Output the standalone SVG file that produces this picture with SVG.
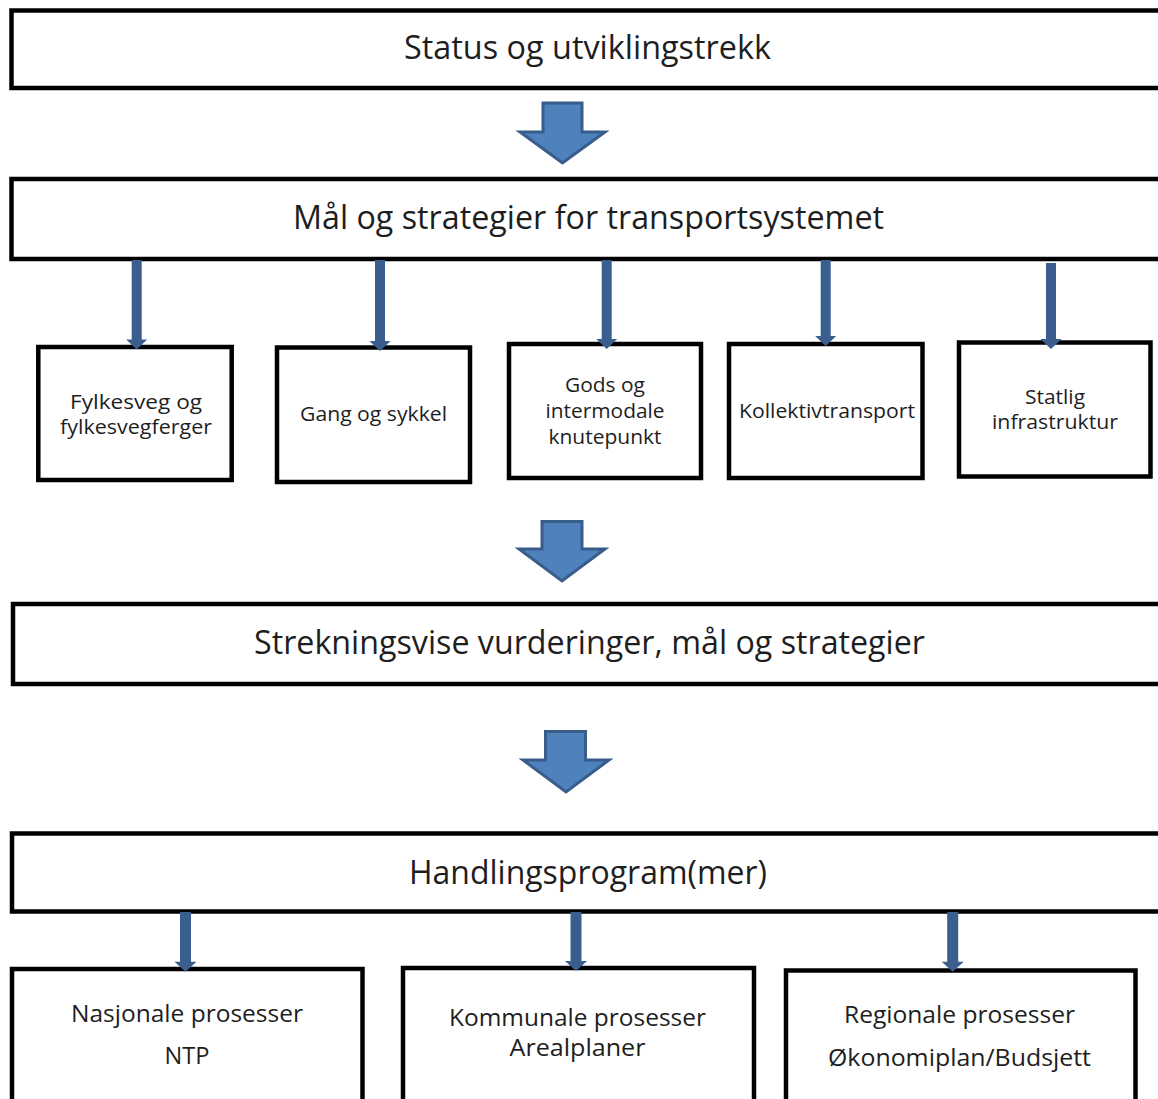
<svg xmlns="http://www.w3.org/2000/svg" width="1158" height="1099" viewBox="0 0 1158 1099">
<style>
.box{fill:#fff;stroke:#000;stroke-width:4.5}
.t{font-family:"Open Sans","Noto Sans","Liberation Sans",sans-serif;fill:#1e1e1e;text-anchor:middle}
.big{font-size:32px}
.sm{font-size:20px}
.md{font-size:23px}
.con{fill:#3a5f8f}
.blk{fill:#4f81bd;stroke:#385d8a;stroke-width:3;stroke-linejoin:miter}
</style>
<rect width="1158" height="1099" fill="#fff"/>
<g id="n-status">
<rect class="box" x="11.5" y="10.5" width="1170" height="77.5"/>
<text class="t big" x="587.5" y="59" textLength="367" lengthAdjust="spacingAndGlyphs">Status og utviklingstrekk</text>
</g>
<g id="n-maal">
<rect class="box" x="11.5" y="179" width="1170" height="80"/>
<text class="t big" x="588.5" y="229" textLength="591" lengthAdjust="spacingAndGlyphs">Mål og strategier for transportsystemet</text>
</g>
<g id="n-fylkesveg">
<rect class="box" x="38.3" y="347" width="193.4" height="133"/>
<text class="t sm" x="136" y="409" textLength="132" lengthAdjust="spacingAndGlyphs">Fylkesveg og</text>
<text class="t sm" x="136" y="434" textLength="152" lengthAdjust="spacingAndGlyphs">fylkesvegferger</text>
</g>
<g id="n-gang">
<rect class="box" x="277" y="347.5" width="193" height="134.5"/>
<text class="t sm" x="373.5" y="421" textLength="147" lengthAdjust="spacingAndGlyphs">Gang og sykkel</text>
</g>
<g id="n-gods">
<rect class="box" x="509" y="344" width="192" height="134"/>
<text class="t sm" x="605" y="392" textLength="80" lengthAdjust="spacingAndGlyphs">Gods og</text>
<text class="t sm" x="605" y="418" textLength="119" lengthAdjust="spacingAndGlyphs">intermodale</text>
<text class="t sm" x="605" y="444" textLength="113" lengthAdjust="spacingAndGlyphs">knutepunkt</text>
</g>
<g id="n-kollektiv">
<rect class="box" x="729" y="344" width="193.5" height="134"/>
<text class="t sm" x="827" y="418" textLength="176" lengthAdjust="spacingAndGlyphs">Kollektivtransport</text>
</g>
<g id="n-statlig">
<rect class="box" x="959" y="342.5" width="191.5" height="134"/>
<text class="t sm" x="1055" y="404" textLength="60" lengthAdjust="spacingAndGlyphs">Statlig</text>
<text class="t sm" x="1055" y="429" textLength="126" lengthAdjust="spacingAndGlyphs">infrastruktur</text>
</g>
<g id="n-strekning">
<rect class="box" x="13" y="604" width="1170" height="80"/>
<text class="t big" x="589.5" y="654" textLength="671" lengthAdjust="spacingAndGlyphs">Strekningsvise vurderinger, mål og strategier</text>
</g>
<g id="n-handling">
<rect class="box" x="12" y="833.5" width="1170" height="78"/>
<text class="t big" x="588" y="884" textLength="358" lengthAdjust="spacingAndGlyphs">Handlingsprogram(mer)</text>
</g>
<g id="n-nasjonale">
<rect class="box" x="12" y="969" width="350.5" height="150"/>
<text class="t md" x="187" y="1022" textLength="232" lengthAdjust="spacingAndGlyphs">Nasjonale prosesser</text>
<text class="t md" x="187" y="1064" textLength="45" lengthAdjust="spacingAndGlyphs">NTP</text>
</g>
<g id="n-kommunale">
<rect class="box" x="403" y="968" width="351" height="150"/>
<text class="t md" x="577.5" y="1026" textLength="257" lengthAdjust="spacingAndGlyphs">Kommunale prosesser</text>
<text class="t md" x="577.5" y="1056" textLength="136" lengthAdjust="spacingAndGlyphs">Arealplaner</text>
</g>
<g id="n-regionale">
<rect class="box" x="786" y="970.5" width="349.5" height="150"/>
<text class="t md" x="959.5" y="1023" textLength="231" lengthAdjust="spacingAndGlyphs">Regionale prosesser</text>
<text class="t md" x="959.5" y="1066" textLength="263" lengthAdjust="spacingAndGlyphs">Økonomiplan/Budsjett</text>
</g>
<g id="connectors">
<path class="blk" d="M543,103 H582 V132 H605 L562.5,163 L520,132 H543 Z"/>
<path class="blk" d="M542,521.5 H582 V549 H605 L562,581 L519,549 H542 Z"/>
<path class="blk" d="M545.5,731.5 H585.5 V760 H609 L566,792 L523,760 H545.5 Z"/>
<path class="con" d="M131.7,260 H141.7 V339.5 H147.2 L136.7,349.5 L126.2,339.5 H131.7 Z"/>
<path class="con" d="M375,260 H385 V341 H390.5 L380,351 L369.5,341 H375 Z"/>
<path class="con" d="M601.7,260 H611.7 V339 H617.2 L606.7,349 L596.2,339 H601.7 Z"/>
<path class="con" d="M820.7,260 H830.7 V336 H836.2 L825.7,346 L815.2,336 H820.7 Z"/>
<path class="con" d="M1046,263 H1056 V339 H1061.5 L1051,349 L1040.5,339 H1046 Z"/>
<path class="con" d="M180,912 H191 V961.7 H196.5 L185.5,971.7 L174.5,961.7 H180 Z"/>
<path class="con" d="M570.5,912 H581.5 V961 H587 L576,971 L565,961 H570.5 Z"/>
<path class="con" d="M947.2,912 H958.2 V961.7 H963.7 L952.7,971.7 L941.7,961.7 H947.2 Z"/>
</g>
</svg>
